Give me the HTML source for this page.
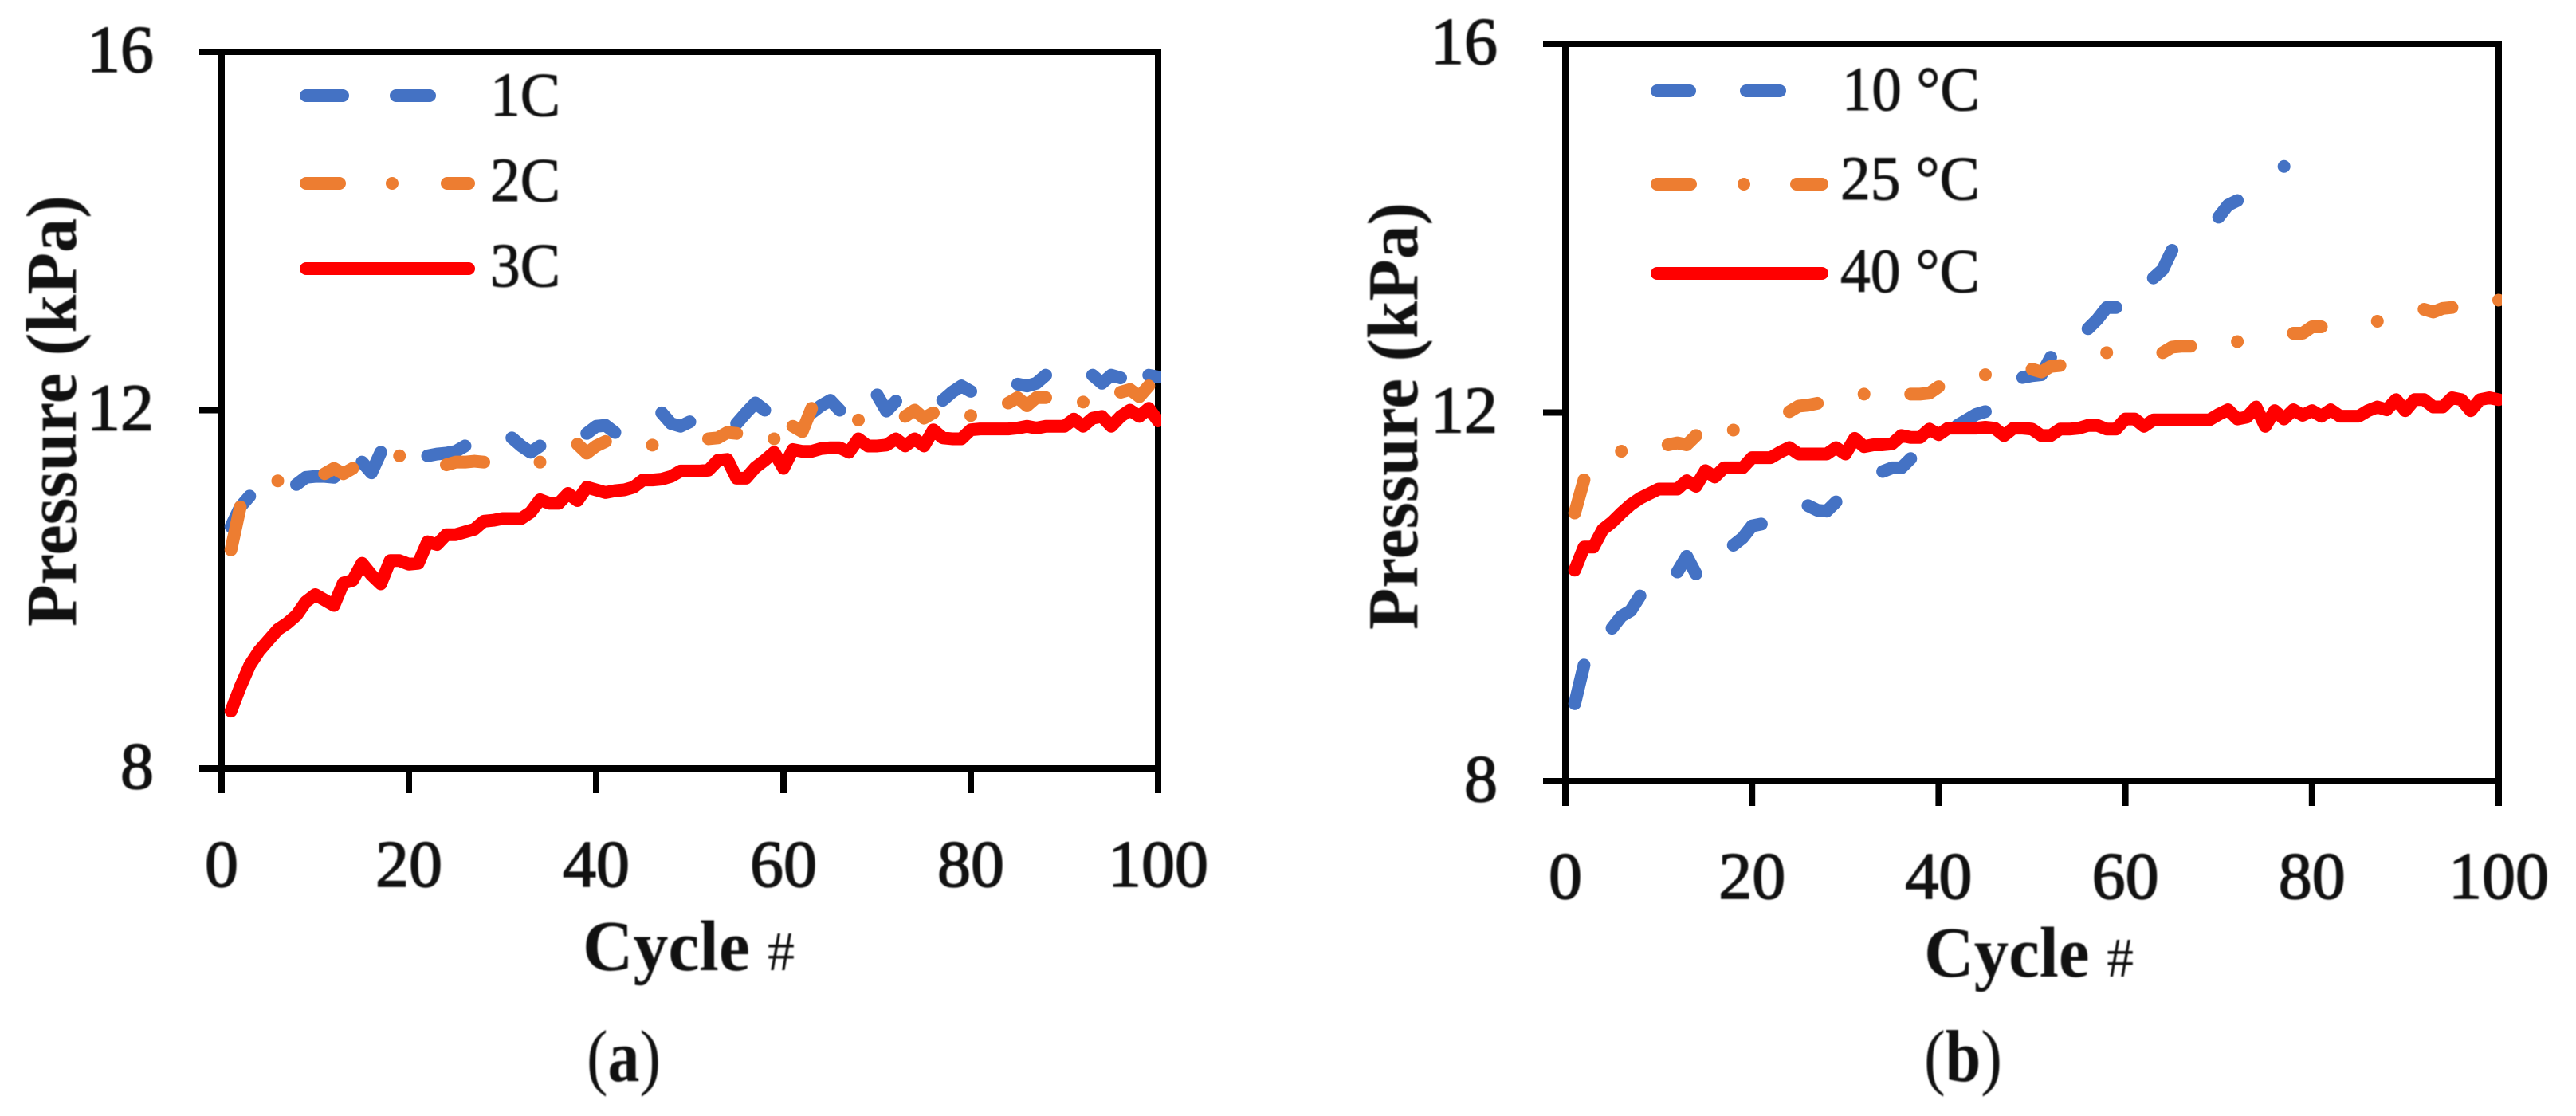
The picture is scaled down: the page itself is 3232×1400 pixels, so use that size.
<!DOCTYPE html>
<html>
<head>
<meta charset="utf-8">
<title>Pressure vs Cycle</title>
<style>
html,body{margin:0;padding:0;background:#fff;width:3232px;height:1400px;overflow:hidden}
svg{display:block}
text{font-family:"Liberation Serif",serif;fill:#111}
.soft{filter:blur(0.9px)}
.tick{font-size:84px;stroke:#111;stroke-width:1.6px}
.title{font-size:90px;font-weight:bold}
.leg{font-size:78px;stroke:#111;stroke-width:1px}
.cap{font-size:92px}
</style>
</head>
<body>
<svg id="fig" width="3232" height="1400" viewBox="0 0 3232 1400" xmlns="http://www.w3.org/2000/svg">
<defs>
<clipPath id="clipA"><rect x="274" y="40" width="1183" height="950"/></clipPath>
<clipPath id="clipB"><rect x="1960" y="30" width="1179" height="975"/></clipPath>
</defs>
<g id="chartA"></g>
<g id="chartB"></g>

<g class="soft">
<text class="title" transform="translate(95,786) rotate(-90)" textLength="541" lengthAdjust="spacingAndGlyphs">Pressure (kPa)</text>
<text class="title" x="731" y="1217" textLength="266" lengthAdjust="spacingAndGlyphs">Cycle <tspan font-weight="normal" font-size="70">#</tspan></text>
<text class="leg" x="615" y="145" textLength="88" lengthAdjust="spacingAndGlyphs">1C</text>
<text class="leg" x="615" y="252" textLength="88" lengthAdjust="spacingAndGlyphs">2C</text>
<text class="leg" x="615" y="359" textLength="88" lengthAdjust="spacingAndGlyphs">3C</text>
<text class="cap" x="736" y="1356" textLength="93" lengthAdjust="spacingAndGlyphs">(<tspan font-weight="bold">a</tspan>)</text>
</g>
<g class="soft">
<text class="title" transform="translate(1778,790) rotate(-90)" textLength="536" lengthAdjust="spacingAndGlyphs">Pressure (kPa)</text>
<text class="title" x="2414" y="1225" textLength="263" lengthAdjust="spacingAndGlyphs">Cycle <tspan font-weight="normal" font-size="70">#</tspan></text>
<text class="leg" x="2311" y="138" textLength="173" lengthAdjust="spacingAndGlyphs">10 °C</text>
<text class="leg" x="2309" y="250" textLength="175" lengthAdjust="spacingAndGlyphs">25 °C</text>
<text class="leg" x="2309" y="366" textLength="175" lengthAdjust="spacingAndGlyphs">40 °C</text>
<text class="cap" x="2414" y="1356" textLength="98" lengthAdjust="spacingAndGlyphs">(<tspan font-weight="bold">b</tspan>)</text>
</g>

<g>
<path d="M384 120H430M497 120H539" stroke="#4472C4" stroke-width="16" stroke-linecap="round" fill="none"/>
<path d="M384 230H426M492 230L492 230M561 230H588" stroke="#ED7D31" stroke-width="16" stroke-linecap="round" fill="none"/>
<path d="M384 337H588" stroke="#FF0000" stroke-width="16" stroke-linecap="round" fill="none"/>
</g>
<g>
<path d="M2079 114H2120M2191 114H2233" stroke="#4472C4" stroke-width="16" stroke-linecap="round" fill="none"/>
<path d="M2079 231H2121M2188 231L2188 231M2254 231H2286" stroke="#ED7D31" stroke-width="16" stroke-linecap="round" fill="none"/>
<path d="M2079 343H2286" stroke="#FF0000" stroke-width="16" stroke-linecap="round" fill="none"/>
</g>
</svg>

<script>
const N = null;
const xTickValues = [0, 20, 40, 60, 80, 100];
const yTickValues = [8, 12, 16];

const pressure1C = [
10.70,10.92,11.04,N,N,N,N,11.17,11.25,11.26,
11.26,11.25,N,N,11.42,11.30,11.53,N,N,N,
N,11.49,11.51,11.52,11.54,11.60,N,N,N,N,
11.69,11.60,11.53,11.60,N,N,N,N,11.74,11.82,
11.83,11.75,N,N,N,N,11.97,11.85,11.82,11.87,
N,N,N,N,11.85,11.97,12.08,12.00,N,N,
N,N,11.97,12.05,12.11,12.00,N,N,N,12.17,
11.99,12.10,N,N,N,N,12.11,12.20,12.27,12.21,
N,N,N,N,12.29,12.27,12.30,12.39,N,N,
N,N,12.39,12.30,12.39,12.36,N,N,12.39,12.37];

const pressure2C = [
10.44,10.92,N,N,N,11.21,N,N,N,N,
11.29,11.35,11.29,11.35,N,N,N,N,11.49,N,
N,N,N,11.39,11.42,11.42,11.43,11.42,N,N,
N,N,N,11.42,N,N,N,11.62,11.52,11.60,
11.65,N,N,N,N,11.61,N,N,N,N,
N,11.68,11.69,11.75,11.74,N,N,N,11.68,N,
11.82,11.76,12.02,N,N,N,N,11.89,N,N,
N,N,11.93,12.00,11.91,11.97,N,N,N,11.94,
N,N,N,12.08,12.14,12.05,12.14,12.14,N,N,
N,12.09,N,N,N,12.20,12.23,12.15,12.27,N];

const pressure3C = [
8.64,8.91,9.15,9.31,9.43,9.55,9.62,9.71,9.86,9.94,
9.88,9.82,10.07,10.10,10.29,10.16,10.06,10.32,10.32,10.28,
10.29,10.53,10.50,10.61,10.61,10.64,10.67,10.76,10.77,10.79,
10.79,10.79,10.86,11.00,10.96,10.96,11.07,10.99,11.14,11.11,
11.08,11.10,11.11,11.14,11.22,11.22,11.23,11.26,11.32,11.32,
11.32,11.33,11.44,11.45,11.24,11.24,11.36,11.44,11.53,11.35,
11.56,11.54,11.54,11.57,11.58,11.58,11.53,11.68,11.60,11.60,
11.61,11.68,11.60,11.68,11.60,11.78,11.69,11.68,11.68,11.78,
11.79,11.79,11.79,11.79,11.80,11.82,11.80,11.82,11.82,11.82,
11.90,11.82,11.91,11.93,11.82,11.93,12.00,11.93,12.02,11.88];

const pressure10 = [
8.84,9.26,N,N,9.66,9.79,9.85,10.01,N,N,
N,10.27,10.44,10.25,N,N,N,10.56,10.64,10.77,
10.79,N,N,N,N,10.99,10.94,10.93,11.03,N,
N,N,N,11.36,11.40,11.40,11.50,N,N,N,
N,11.86,11.92,11.98,12.01,N,N,N,12.38,12.40,
12.41,12.60,N,N,N,12.91,13.01,13.14,13.14,N,
N,N,13.46,13.55,13.76,N,N,N,N,14.12,
14.25,14.30,N,N,N,N,14.67,N,N,N,
N,N,N,N,N,N,N,N,N,N,
N,N,N,N,N,N,N,N,N,N];

const pressure25 = [
10.91,11.27,N,N,N,11.58,N,N,N,N,
11.65,11.67,11.65,11.75,N,N,N,11.81,N,N,
N,N,N,12.01,12.07,12.08,12.10,N,N,N,
N,12.20,N,N,N,N,12.20,12.20,12.21,12.28,
N,N,N,N,12.41,N,N,N,N,12.47,
12.44,12.50,12.51,N,N,N,N,12.65,N,N,
N,N,N,12.65,12.71,12.72,12.72,N,N,N,
N,12.77,N,N,N,N,N,12.86,12.86,12.93,
12.93,N,N,N,N,N,12.99,N,N,N,
N,13.12,13.09,13.13,13.14,N,N,N,N,13.22];

const pressure40 = [
10.29,10.54,10.54,10.73,10.81,10.91,11.00,11.07,11.12,11.17,
11.17,11.17,11.26,11.20,11.37,11.30,11.40,11.40,11.40,11.51,
11.51,11.51,11.57,11.62,11.55,11.55,11.55,11.55,11.62,11.55,
11.72,11.63,11.65,11.65,11.66,11.75,11.73,11.73,11.82,11.76,
11.83,11.83,11.83,11.83,11.84,11.83,11.75,11.83,11.83,11.82,
11.75,11.75,11.82,11.82,11.83,11.86,11.86,11.82,11.82,11.93,
11.93,11.85,11.92,11.92,11.92,11.92,11.92,11.92,11.92,11.98,
12.03,11.93,11.95,12.06,11.85,12.02,11.93,12.03,11.97,12.02,
11.96,12.03,11.96,11.96,11.96,12.02,12.06,12.03,12.14,12.02,
12.14,12.14,12.06,12.06,12.16,12.14,12.02,12.14,12.16,12.14];

const SVGNS = 'http://www.w3.org/2000/svg';

function makeAxis(domainMin, domainMax, pixelMin, pixelMax) {
  return function (v) {
    return pixelMin + (v - domainMin) * (pixelMax - pixelMin) / (domainMax - domainMin);
  };
}

function drawLine(parent, x1, y1, x2, y2, width) {
  const el = document.createElementNS(SVGNS, 'line');
  el.setAttribute('x1', x1);
  el.setAttribute('y1', y1);
  el.setAttribute('x2', x2);
  el.setAttribute('y2', y2);
  el.setAttribute('stroke', '#000');
  el.setAttribute('stroke-width', width);
  parent.appendChild(el);
  return el;
}

function drawChart(root, box) {
  const sx = makeAxis(0, 100, box.left, box.right);
  const sy = makeAxis(8, 16, box.bottom, box.top);

  const frame = [
    [box.left, box.top - 4, box.left, box.bottom + 4],
    [box.right, box.top - 4, box.right, box.bottom + 4],
    [box.left, box.top, box.right, box.top],
    [box.left, box.bottom, box.right, box.bottom]
  ];
  frame.forEach(function (f) {
    const el = drawLine(root, f[0], f[1], f[2], f[3], 8);
    
    
  });

  const labels = document.createElementNS(SVGNS, 'g');
  labels.setAttribute('class', 'soft');
  
  
  root.appendChild(labels);

  xTickValues.forEach(function (t) {
    const tick = drawLine(root, sx(t), box.bottom, sx(t), box.bottom + 31, 8);
    
    
    const txt = document.createElementNS(SVGNS, 'text');
    txt.setAttribute('class', 'tick');
    txt.setAttribute('x', sx(t));
    txt.setAttribute('y', box.bottom + box.xLabelGap);
    txt.setAttribute('text-anchor', 'middle');
    
    
    txt.textContent = String(t);
    labels.appendChild(txt);
  });

  yTickValues.forEach(function (t) {
    const tick = drawLine(root, box.left - 28, sy(t), box.left, sy(t), 8);
    
    
    const txt = document.createElementNS(SVGNS, 'text');
    txt.setAttribute('class', 'tick');
    txt.setAttribute('x', box.yLabelRight);
    txt.setAttribute('y', sy(t) + 25);
    txt.setAttribute('text-anchor', 'end');
    
    
    txt.textContent = String(t);
    labels.appendChild(txt);
  });

  box.series.forEach(function (s) {
    let d = '';
    let open = false;
    let lastX = 0;
    let lastY = 0;
    let runLength = 0;
    s.values.forEach(function (v, i) {
      const cycle = i + 1;
      if (v === null) {
        if (open && runLength === 1) d += 'L' + lastX + ' ' + lastY;
        open = false;
        runLength = 0;
        return;
      }
      lastX = sx(cycle).toFixed(2);
      lastY = sy(v).toFixed(2);
      d += (open ? 'L' : 'M') + lastX + ' ' + lastY;
      open = true;
      runLength += 1;
    });
    if (open && runLength === 1) d += 'L' + lastX + ' ' + lastY;
    const path = document.createElementNS(SVGNS, 'path');
    path.setAttribute('d', d);
    path.setAttribute('fill', 'none');
    path.setAttribute('stroke', s.color);
    path.setAttribute('stroke-width', 16);
    path.setAttribute('stroke-linecap', 'round');
    path.setAttribute('stroke-linejoin', 'round');
    path.setAttribute('clip-path', box.clip);
    
    
    root.appendChild(path);
  });
}

drawChart(document.getElementById('chartA'), {
  left: 278, right: 1453, top: 65, bottom: 964,
  xLabelGap: 148, yLabelRight: 193, clip: 'url(#clipA)',
  series: [
    {name: 'series-1c', color: '#4472C4', values: pressure1C},
    {name: 'series-2c', color: '#ED7D31', values: pressure2C},
    {name: 'series-3c', color: '#FF0000', values: pressure3C}
  ]
});

drawChart(document.getElementById('chartB'), {
  left: 1964, right: 3135, top: 55, bottom: 980,
  xLabelGap: 147, yLabelRight: 1879, clip: 'url(#clipB)',
  series: [
    {name: 'series-10c', color: '#4472C4', values: pressure10},
    {name: 'series-25c', color: '#ED7D31', values: pressure25},
    {name: 'series-40c', color: '#FF0000', values: pressure40}
  ]
});
</script>
</body>
</html>
